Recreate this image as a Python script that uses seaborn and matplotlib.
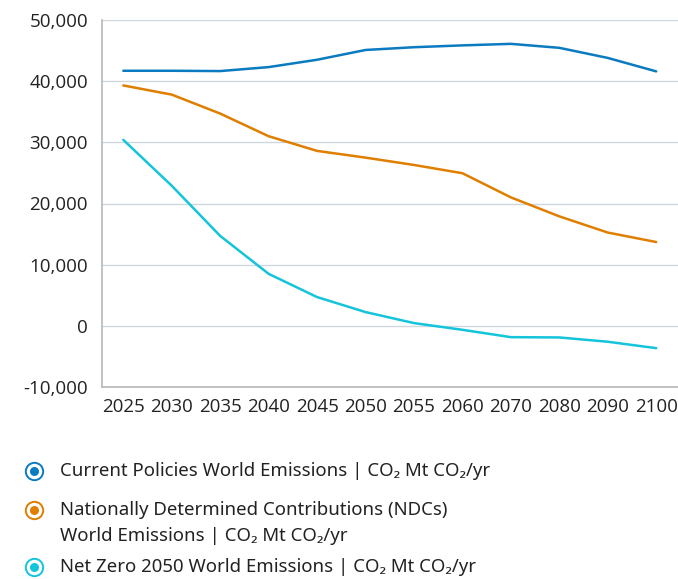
import pandas as pd
import matplotlib.pyplot as plt
import seaborn as sns
from matplotlib.lines import Line2D
from matplotlib.ticker import FuncFormatter

# Data (Mt CO2/yr)
years = ["2025", "2030", "2035", "2040", "2045", "2050", "2055",
         "2060", "2070", "2080", "2090", "2100"]
current_policies = [41700, 41700, 41650, 42300, 43500, 45100, 45550,
                    45850, 46100, 45450, 43800, 41600]
ndcs = [39300, 37800, 34700, 31000, 28600, 27500, 26300,
        24950, 21000, 17900, 15250, 13700]
net_zero = [30400, 22900, 14700, 8500, 4700, 2250, 450,
            -650, -1850, -1900, -2600, -3650]

series_names = [
    "Current Policies World Emissions | CO\u2082 Mt CO\u2082/yr",
    "Nationally Determined Contributions (NDCs)\nWorld Emissions | CO\u2082 Mt CO\u2082/yr",
    "Net Zero 2050 World Emissions | CO\u2082 Mt CO\u2082/yr",
]
colors = ["#0a7bc1", "#e07e00", "#13c4da"]

df = pd.DataFrame({
    "year": years * 3,
    "value": current_policies + ndcs + net_zero,
    "series": [series_names[0]] * 12 + [series_names[1]] * 12 + [series_names[2]] * 12,
})

sns.set_theme(style="white")
plt.rcParams['font.family'] = ['Open Sans', 'DejaVu Sans']

fig = plt.figure(figsize=(6.78, 5.79), dpi=100)
ax = fig.add_axes([102 / 678, 1 - 387 / 579, 1 - 102 / 678, (387 - 20) / 579])

sns.lineplot(data=df, x="year", y="value", hue="series", palette=colors,
             linewidth=1.8, sort=False, legend=False, ax=ax)

ax.set_ylim(-10000, 50000)
ax.set_xlim(-0.44, 11.45)
ax.set_yticks(range(-10000, 50001, 10000))
ax.yaxis.set_major_formatter(FuncFormatter(lambda v, p: f"{int(v):,}"))
ax.set_xlabel("")
ax.set_ylabel("")

ax.grid(axis="y", color="#cdd8de", linewidth=1)
ax.set_axisbelow(True)
for s in ["top", "right"]:
    ax.spines[s].set_visible(False)
for s in ["left", "bottom"]:
    ax.spines[s].set_color("#b8b8b8")
    ax.spines[s].set_linewidth(1.2)
ax.tick_params(axis="x", length=4, width=1, color="#b8b8b8", pad=4,
               labelsize=13.5, labelcolor="#222222")
ax.tick_params(axis="y", length=3, width=1, color="#b8b8b8", pad=7,
               labelsize=13.5, labelcolor="#222222")

# Legend drawn below the plot
legend_rows = [471, 510, 567]
for name, color, ypx in zip(series_names, colors, legend_rows):
    yf = 1 - ypx / 579
    fig.add_artist(Line2D([34 / 678], [yf], marker="o", markersize=12.5,
                          markerfacecolor="white", markeredgecolor=color,
                          markeredgewidth=1.4, transform=fig.transFigure))
    fig.add_artist(Line2D([34 / 678], [yf], marker="o", markersize=6.5,
                          markerfacecolor=color, markeredgewidth=0,
                          transform=fig.transFigure))
    lines = name.split("\n")
    for i, line in enumerate(lines):
        fig.text(60 / 678, yf - i * 26 / 579, line, fontsize=13.4,
                 family=['Noto Sans', 'DejaVu Sans'],
                 color="#222222", va="center")

fig.savefig("out.png", dpi=100)
